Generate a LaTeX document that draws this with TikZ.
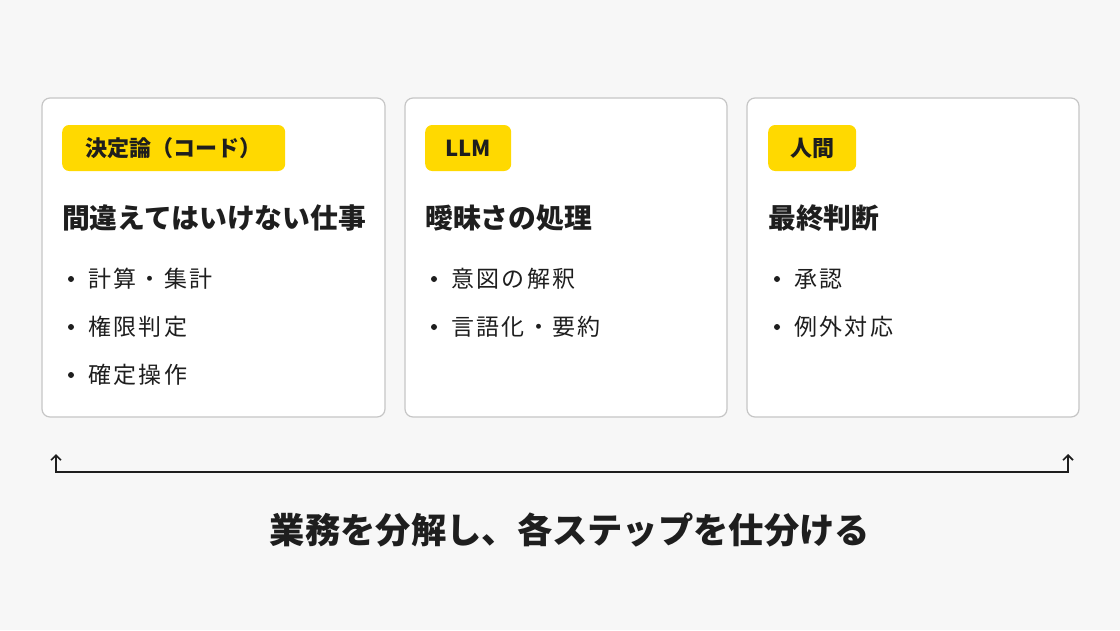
\documentclass[tikz,border=0pt]{standalone}
\usepackage{fontspec}
\setmainfont{Noto Sans CJK JP}
\newfontfamily\jpitem[LetterSpace=10]{Noto Sans CJK JP}
\usetikzlibrary{arrows.meta}
\definecolor{bgc}{HTML}{F7F7F7}
\definecolor{ink}{HTML}{1E1E1E}
\definecolor{bord}{HTML}{C6C6C6}
\definecolor{yel}{HTML}{FFD900}
\tikzset{
  card/.style={draw=bord, line width=1.2pt, fill=white, rounded corners=8pt, minimum height=319pt, inner sep=0pt},
  badge/.style={fill=yel, rounded corners=7pt, minimum height=46pt, inner sep=0pt, text=ink, font=\bfseries\fontsize{22}{26}\selectfont},
  title/.style={anchor=west, inner sep=0pt, text=ink, font=\bfseries\fontsize{27.8}{34}\selectfont},
  dot/.style={circle, fill=ink, minimum size=6pt, inner sep=0pt},
  item/.style={anchor=west, inner sep=0pt, text=ink, font=\jpitem\fontsize{23}{28}\selectfont},
  bracket/.style={draw=ink, line width=1.6pt, {Straight Barb[length=5pt,width=10pt]}-{Straight Barb[length=5pt,width=10pt]}},
  caption/.style={inner sep=0pt, text=ink, font=\bfseries\fontsize{35.3}{42}\selectfont},
}
\begin{document}
\begin{tikzpicture}[x=1pt,y=-1pt]
\fill[bgc] (0,0) rectangle (1120,630);
\useasboundingbox (0,0) rectangle (1120,630);
% cards
\node[card, minimum width=343pt] (c1) at (213.5,257.5) {};
\node[card, minimum width=322pt] (c2) at (566,257.5) {};
\node[card, minimum width=332pt] (c3) at (913,257.5) {};
% badges
\node[badge, minimum width=223pt, anchor=west] (b1) at (62,148) {決定論（コード）};
\node[badge, minimum width=86pt, anchor=west] (b2) at (425,148) {LLM};
\node[badge, minimum width=88pt, anchor=west] (b3) at (768,148) {人間};
% titles
\node[title] (t1) at (62,218) {間違えてはいけない仕事};
\node[title] (t2) at (425,218) {曖昧さの処理};
\node[title] (t3) at (768,218) {最終判断};
% items card 1
\node[dot] (d11) at (71,279) {};
\node[item] (i11) at (88,279) {計算・集計};
\node[dot] (d12) at (71,327) {};
\node[item] (i12) at (88,327) {権限判定};
\node[dot] (d13) at (71,375) {};
\node[item] (i13) at (88,375) {確定操作};
% items card 2
\node[dot] (d21) at (434,279) {};
\node[item] (i21) at (451,279) {意図の解釈};
\node[dot] (d22) at (434,327) {};
\node[item] (i22) at (451,327) {言語化・要約};
% items card 3
\node[dot] (d31) at (777,279) {};
\node[item] (i31) at (794,279) {承認};
\node[dot] (d32) at (777,327) {};
\node[item] (i32) at (794,327) {例外対応};
% bracket
\coordinate (aL) at (56,454);
\coordinate (aR) at (1068,454);
\coordinate (base) at (0,472);
\draw[bracket] (aL) -- (aL|-base) -- (aR|-base) -- (aR);
% caption
\node[caption] (cap) at (570,530) {業務を分解し、各ステップを仕分ける};
\end{tikzpicture}
\end{document}
